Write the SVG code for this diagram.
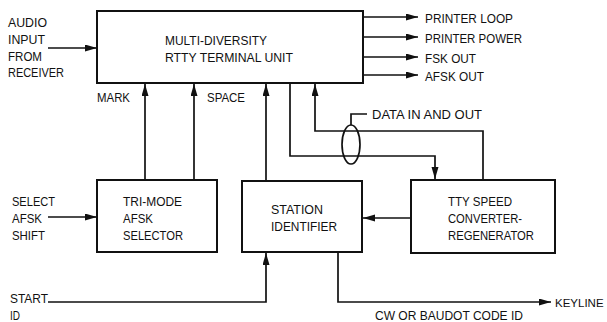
<svg xmlns="http://www.w3.org/2000/svg" width="607" height="322" viewBox="0 0 607 322">
<style>
text{font-family:"Liberation Sans",Arial,sans-serif;font-size:13.5px;fill:#111;}
.box{fill:#fff;stroke:#111;stroke-width:2;}
.ln{fill:none;stroke:#111;stroke-width:1.7;}
.ar{marker-end:url(#ah);}
</style>
<defs>
<marker id="ah" markerUnits="userSpaceOnUse" markerWidth="13" markerHeight="8" refX="12" refY="3.5" orient="auto">
<path d="M0,0 L12,3.5 L0,7 z" fill="#111"/>
</marker>
</defs>
<rect width="607" height="322" fill="#fff"/>
<g id="connectors">
<path class="ln ar" d="M48,48 H97"/>
<path class="ln ar" d="M48,217 H97"/>
<path class="ln ar" d="M363,17 H418"/>
<path class="ln ar" d="M363,37 H418"/>
<path class="ln ar" d="M363,57 H418"/>
<path class="ln ar" d="M363,75 H418"/>
<path class="ln ar" d="M145,180 V84"/>
<path class="ln ar" d="M194,180 V84"/>
<path class="ln ar" d="M266,181 V84"/>
<path class="ln ar" d="M290,83 V156 H435 V179"/>
<path class="ln ar" d="M483,180 V131 H315 V84"/>
<path class="ln ar" d="M411,218 H363"/>
<path class="ln ar" d="M48,302 H266 V253"/>
<path class="ln ar" d="M338,252 V302 H551"/>
<ellipse class="ln" cx="351" cy="144.5" rx="9" ry="19.5"/>
<path class="ln" d="M351,125 V114 H367"/>
</g>
<g id="labels">
<text x="8" y="27" textLength="39" lengthAdjust="spacingAndGlyphs">AUDIO</text>
<text x="8" y="43.5" textLength="37" lengthAdjust="spacingAndGlyphs">INPUT</text>
<text x="8" y="60.5" textLength="34" lengthAdjust="spacingAndGlyphs">FROM</text>
<text x="8" y="77" textLength="56" lengthAdjust="spacingAndGlyphs">RECEIVER</text>
<text x="425" y="23" textLength="88" lengthAdjust="spacingAndGlyphs">PRINTER LOOP</text>
<text x="425" y="43" textLength="97" lengthAdjust="spacingAndGlyphs">PRINTER POWER</text>
<text x="425" y="62.5" textLength="51" lengthAdjust="spacingAndGlyphs">FSK OUT</text>
<text x="425" y="81" textLength="59" lengthAdjust="spacingAndGlyphs">AFSK OUT</text>
<text x="97" y="102" textLength="33" lengthAdjust="spacingAndGlyphs">MARK</text>
<text x="207" y="102" textLength="38" lengthAdjust="spacingAndGlyphs">SPACE</text>
<text x="372" y="119" textLength="110" lengthAdjust="spacingAndGlyphs">DATA IN AND OUT</text>
<text x="12" y="206" textLength="43" lengthAdjust="spacingAndGlyphs">SELECT</text>
<text x="12" y="223" textLength="30" lengthAdjust="spacingAndGlyphs">AFSK</text>
<text x="12" y="240" textLength="33" lengthAdjust="spacingAndGlyphs">SHIFT</text>
<text x="10" y="303" textLength="38" lengthAdjust="spacingAndGlyphs">START</text>
<text x="10" y="320" textLength="10" lengthAdjust="spacingAndGlyphs">ID</text>
<text x="555" y="307" style="font-size:11.5px">KEYLINE</text>
<text x="375" y="319.5" textLength="148" lengthAdjust="spacingAndGlyphs">CW OR BAUDOT CODE ID</text>
</g>
<g id="terminal-unit">
<rect class="box" x="97" y="11" width="266" height="72"/>
<text x="165" y="45" textLength="102" lengthAdjust="spacingAndGlyphs">MULTI-DIVERSITY</text>
<text x="165" y="62" textLength="128" lengthAdjust="spacingAndGlyphs">RTTY TERMINAL UNIT</text>
</g>
<g id="afsk-selector">
<rect class="box" x="97" y="180" width="120" height="72"/>
<text x="123" y="206" textLength="59" lengthAdjust="spacingAndGlyphs">TRI-MODE</text>
<text x="123" y="223" textLength="30" lengthAdjust="spacingAndGlyphs">AFSK</text>
<text x="123" y="240" textLength="60" lengthAdjust="spacingAndGlyphs">SELECTOR</text>
</g>
<g id="station-identifier">
<rect class="box" x="242" y="181" width="120" height="71"/>
<text x="271" y="214" textLength="52" lengthAdjust="spacingAndGlyphs">STATION</text>
<text x="271" y="231" textLength="66" lengthAdjust="spacingAndGlyphs">IDENTIFIER</text>
</g>
<g id="tty-converter">
<rect class="box" x="411" y="180" width="144" height="73"/>
<text x="448" y="206" textLength="64" lengthAdjust="spacingAndGlyphs">TTY SPEED</text>
<text x="448" y="223" textLength="74" lengthAdjust="spacingAndGlyphs">CONVERTER-</text>
<text x="448" y="240" textLength="86" lengthAdjust="spacingAndGlyphs">REGENERATOR</text>
</g>
</svg>
